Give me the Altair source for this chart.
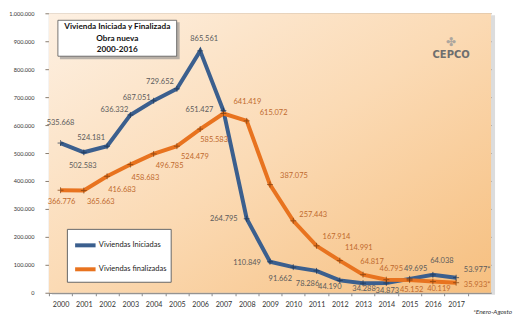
import altair as alt
import pandas as pd

# ---------------- data ----------------
years = list(range(2000, 2018))
iniciadas = [535668, 502583, 524181, 636332, 687051, 729652, 865561, 651427,
             264795, 110849, 91662, 78286, 44190, 34288, 34873, 49695, 64038, 53977]
finalizadas = [366776, 365663, 416683, 458683, 496785, 524479, 585583, 641419,
               615072, 387075, 257443, 167914, 114991, 64817, 46795, 45152, 40119, 35933]
series_names = ["Viviendas Iniciadas", "Viviendas finalizadas"]
title_lines = ["Vivienda Iniciada y Finalizada", "Obra nueva", "2000-2016"]
y_ticks = [0, 100000, 200000, 300000, 400000, 500000, 600000, 700000, 800000, 900000, 1000000]
footnote = "*Enero-Agosto"
logo_text = "CEPCO"

# label placement offsets (pixels, relative to the point)
ini_dx = [0, -1, -16, -16, -17, -17, 4, -24, -23, -23, -13, -9, -10, 1, 1, 6, 9, 21]
ini_dy = [-20, 14, -8, -5, -3, -7, -12, -1, 0, 1, 12, 13, 7, 6, 8, -10, -14, -8]
fin_dx = [1, 17, 15, 15, 16, 18, 14, 24, 27, 24, 20, 20, 19, 9, 5, 2, 6, 21]
fin_dy = [12, 11, 14, 13, 12, 11, 11, -12, -8, -9, -6, -9, -13, -13, -11, 10, 7, 2]

# ---------------- layout ----------------
W, H = 443, 280
YMAX = 1000000
X0, X1 = 1999.5, 2018.5
px_year = W / (X1 - X0)
units_px = YMAX / H

line_colors = ["#3b5f8e", "#e8731f"]
marker_colors = ["#1c324f", "#7c3c0c"]
label_colors = ["#5b5b5b", "#bf6a2e"]
FONT = "Lato"


def fmt(v, y):
    s = f"{v:,}".replace(",", ".")
    return s + ("*" if y == 2017 else "")


rows = []
for name, vals, dxs, dys in [
    (series_names[0], iniciadas, ini_dx, ini_dy),
    (series_names[1], finalizadas, fin_dx, fin_dy),
]:
    for y, v, dx, dy in zip(years, vals, dxs, dys):
        rows.append({"year": y, "value": v, "series": name,
                     "dx": dx, "dy": dy, "label": fmt(v, y)})
df = pd.DataFrame(rows)

x_scale = alt.Scale(domain=[X0, X1], nice=False, zero=False)
y_scale = alt.Scale(domain=[0, YMAX], nice=False)

x_axis = alt.Axis(
    values=years + [2018], format="d",
    labelExpr="datum.value > 2017 ? '' : datum.label",
    tickOffset=-px_year / 2, labelOffset=px_year / 2,
    grid=False, title=None, domainColor="#8a8a8a", tickColor="#8a8a8a",
    tickSize=3, labelFontSize=7.2, labelColor="#333333", labelFont=FONT,
    labelPadding=5, labelOverlap=False, labelFlush=False,
)
y_axis = alt.Axis(
    values=y_ticks, format=",d", title=None, grid=True, gridColor="#8a7c6e",
    gridWidth=1, domainColor="#8a8a8a", tickColor="#8a7c6e", tickSize=4,
    labelFontSize=5.6, labelColor="#333333", labelFont=FONT, labelPadding=11,
    labelOverlap=False, labelFlush=False,
)


def X(field):
    return alt.X(field, scale=x_scale, axis=x_axis)


def Y(field):
    return alt.Y(field, scale=y_scale, axis=y_axis)


dummy = pd.DataFrame({"a": [0]})

shadow = alt.Chart(dummy).mark_rect(color="#9a9a9a", opacity=0.35).encode(
    x=alt.value(3), x2=alt.value(W + 4), y=alt.value(2), y2=alt.value(H + 2)
)

bg = alt.Chart(dummy).mark_rect(
    color=alt.LinearGradient(
        gradient="linear",
        stops=[alt.GradientStop(color="#fdf0e2", offset=0),
               alt.GradientStop(color="#fbdab4", offset=0.5),
               alt.GradientStop(color="#f6bf7f", offset=1)],
        x1=0, y1=0, x2=1, y2=1,
    )
).encode(x=alt.value(0), x2=alt.value(W), y=alt.value(0), y2=alt.value(H))

base = alt.Chart(df)

lines = base.mark_line(strokeWidth=4).encode(
    x=X("year:Q"),
    y=Y("value:Q"),
    color=alt.Color(
        "series:N",
        scale=alt.Scale(domain=series_names, range=line_colors),
        legend=alt.Legend(
            title=None, orient="none", legendX=18, legendY=216,
            fillColor="white", strokeColor="#666666", padding=4,
            symbolType="stroke", symbolStrokeWidth=4, symbolSize=420,
            labelFont=FONT, labelFontSize=7.5, labelColor="#222222",
            rowPadding=3, labelOffset=1, symbolOffset=2,
        ),
    ),
    order=alt.Order("year:Q"),
)

markers = base.mark_point(
    shape="M-1,0L1,0M0,-1L0,1", filled=False, size=35, strokeWidth=1
).encode(
    x=X("year:Q"),
    y=Y("value:Q"),
    stroke=alt.Stroke("series:N",
                      scale=alt.Scale(domain=series_names, range=marker_colors),
                      legend=None),
)

labels = base.transform_calculate(
    lx=f"datum.year + datum.dx / {px_year}",
    ly=f"datum.value - datum.dy * {units_px}",
).mark_text(font=FONT, fontSize=7.5, baseline="middle", align="center").encode(
    x=X("lx:Q"),
    y=Y("ly:Q"),
    text="label:N",
    fill=alt.Fill("series:N",
                  scale=alt.Scale(domain=series_names, range=label_colors),
                  legend=None),
)

# title box
tbox_shadow = alt.Chart(dummy).mark_rect(color="#8c8c8c", opacity=0.6).encode(
    x=alt.value(11), x2=alt.value(131), y=alt.value(9), y2=alt.value(46)
)
tbox = alt.Chart(dummy).mark_rect(color="white", stroke="#555555", strokeWidth=0.8).encode(
    x=alt.value(9), x2=alt.value(128), y=alt.value(7), y2=alt.value(43)
)
tdf = pd.DataFrame({"t": title_lines, "i": [0, 1, 2]})
ttext = alt.Chart(tdf).transform_calculate(py="14 + datum.i * 11.5").mark_text(
    font=FONT, fontSize=8.2, fontWeight="bold", color="#111111", align="center",
    baseline="middle"
).encode(x=alt.value(68.5), y=alt.Y("py:Q", scale=None), text="t:N")

logo = alt.Chart(dummy).mark_text(
    text=logo_text, font="DejaVu Sans", fontSize=10, fontWeight="bold",
    color="#6e6e6e", align="center", baseline="middle"
).encode(x=alt.value(403), y=alt.value(42))
logo_icon = alt.Chart(dummy).mark_text(
    text="✤", font="DejaVu Sans", fontSize=12,
    color="#9a9a9a", align="center", baseline="middle", opacity=0.8
).encode(x=alt.value(403), y=alt.value(29))

foot = alt.Chart(dummy).mark_text(
    text=footnote, font=FONT, fontSize=6.5, fontStyle="italic",
    color="#333333", align="right", baseline="middle"
).encode(x=alt.value(464), y=alt.value(299))

chart = alt.layer(
    shadow, bg, lines, markers, labels, tbox_shadow, tbox, ttext, logo_icon, logo, foot
).properties(
    width=W, height=H,
    autosize=alt.AutoSizeParams(type="none"),
    padding={"left": 41, "top": 5, "right": 22, "bottom": 25},
).configure(
    locale={"number": {"decimal": ",", "thousands": ".", "grouping": [3],
                       "currency": ["", " €"]}},
    background="white",
).configure_view(stroke=None)

chart.save("out.html", embed_options={"renderer": "svg", "actions": False})
